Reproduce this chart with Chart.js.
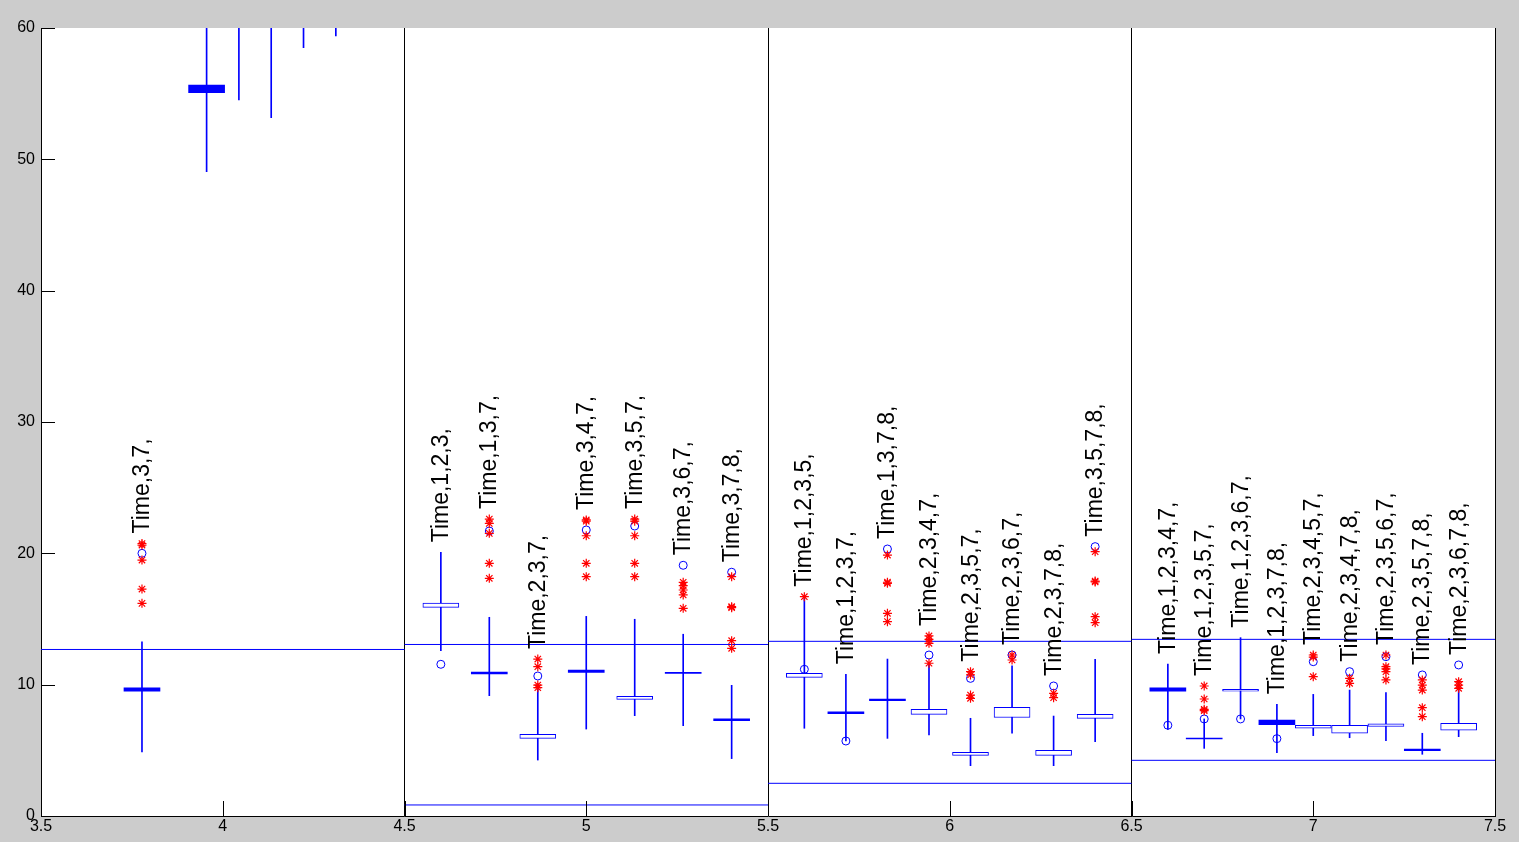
<!DOCTYPE html>
<html><head><meta charset="utf-8">
<script src="https://cdn.jsdelivr.net/npm/chart.js@4"></script>
<style>html,body{margin:0;padding:0;background:#cccccc;overflow:hidden}canvas{display:block}</style>
</head><body>
<canvas id="c" width="1519" height="842"></canvas>
<script>
// ---- panel structure and reference lines ----
const panelEdges = [3.5, 4.5, 5.5, 6.5, 7.5];
const upperRef = [12.68, 13.06, 13.30, 13.45];
const lowerRef = [null, 0.84, 2.49, 4.24];

// ---- boxes (one entry per box) ----
const positions = [
  3.7778, 3.9556, 4.0444, 4.1333, 4.2222, 4.3111,
  4.6, 4.7333, 4.8667, 5.0, 5.1333, 5.2667, 5.4,
  5.6, 5.7143, 5.8286, 5.9429, 6.0571, 6.1714, 6.2857, 6.4,
  6.6, 6.7, 6.8, 6.9, 7.0, 7.1, 7.2, 7.3, 7.4
];
const labels = [
  'Time,3,7,', '', '', '', '', '',
  'Time,1,2,3,', 'Time,1,3,7,', 'Time,2,3,7,', 'Time,3,4,7,', 'Time,3,5,7,', 'Time,3,6,7,', 'Time,3,7,8,',
  'Time,1,2,3,5,', 'Time,1,2,3,7,', 'Time,1,3,7,8,', 'Time,2,3,4,7,', 'Time,2,3,5,7,', 'Time,2,3,6,7,', 'Time,2,3,7,8,', 'Time,3,5,7,8,',
  'Time,1,2,3,4,7,', 'Time,1,2,3,5,7,', 'Time,1,2,3,6,7,', 'Time,1,2,3,7,8,', 'Time,2,3,4,5,7,', 'Time,2,3,4,7,8,', 'Time,2,3,5,6,7,', 'Time,2,3,5,7,8,', 'Time,2,3,6,7,8,'
];
const whiskerLow = [
  4.88, 49.06, 54.52, 53.17, 58.5, 59.4,
  12.59, 9.16, 4.26, 6.62, 7.64, 6.88, 4.37,
  6.68, 5.71, 5.91, 6.17, 3.83, 6.30, 3.83, 5.66,
  6.60, 5.15, 7.39, 4.82, 6.12, 5.96, 5.73, 4.70, 6.04
];
const whiskerHigh = [
  13.26, 61, 61, 61, 61, 61,
  20.08, 15.13, 9.72, 15.20, 14.98, 13.84, 9.95,
  16.70, 10.79, 11.95, 11.63, 7.44, 11.43, 7.61, 11.92,
  11.57, 7.39, 13.58, 8.50, 9.26, 9.59, 9.39, 6.30, 9.72
];
const boxLow = [
  9.50, 55.07, null, null, null, null,
  15.89, 10.81, 5.91, 10.94, 8.88, 10.86, 7.26,
  10.56, 7.79, 8.78, 7.74, 4.62, 7.50, 4.62, 7.43,
  9.50, 5.86, 9.50, 6.95, 6.68, 6.30, 6.83, 4.97, 6.53
];
const boxHigh = [
  9.75, 55.66, null, null, null, null,
  16.22, 10.96, 6.22, 11.12, 9.11, 10.86, 7.39,
  10.86, 7.94, 8.91, 8.12, 4.85, 8.27, 5.00, 7.74,
  9.75, 5.86, 9.65, 7.31, 6.91, 6.91, 7.01, 5.10, 7.06
];
const boxKind = [
  'solid', 'solid', null, null, null, null,
  'open', 'solid', 'open', 'solid', 'open', 'flat', 'solid',
  'open', 'solid', 'solid', 'open', 'open', 'open', 'open', 'open',
  'solid', 'flat', 'open', 'solid', 'open', 'open', 'open', 'solid', 'open'
];
const means = [
  20.0, null, null, null, null, null,
  11.55, 21.70, 10.66, 21.78, 22.08, 19.09, 18.56,
  11.17, 5.71, 20.33, 12.26, 10.48, 12.26, 9.90, 20.51,
  6.91, 7.39, 7.39, 5.89, 11.75, 10.99, 12.13, 10.74, 11.50
];
const outliers = [
  [20.63, 20.75, 19.49, 17.28, 16.19], [], [], [], [], [],
  [], [22.61, 22.28, 21.52, 19.24, 18.10], [11.95, 11.37, 9.97, 9.77], [22.54, 22.45, 21.34, 19.24, 18.22],
  [22.61, 22.45, 21.34, 19.24, 18.22], [17.79, 17.54, 17.21, 16.83, 15.81], [18.22, 15.94, 15.86, 13.35, 12.77],
  [16.70], [], [19.87, 17.72, 17.80, 15.43, 14.80], [13.71, 13.45, 13.15, 11.63],
  [10.99, 10.74, 9.21, 8.96], [12.26, 11.88], [9.34, 9.01], [20.13, 17.89, 17.82, 15.18, 14.72],
  [], [9.90, 8.91, 8.12, 8.02], [], [], [12.26, 12.10, 10.61], [10.48, 10.10],
  [12.26, 11.37, 11.20, 10.99, 10.36], [10.36, 9.97, 9.59, 8.25, 7.56], [10.23, 9.97, 9.72]
];
const yTicks = [0, 10, 20, 30, 40, 50, 60];
const xTicks = [3.5, 4, 4.5, 5, 5.5, 6, 6.5, 7, 7.5];

// ---- build datasets ----
const BLUE = '#0000ff', RED = '#ff0000';
const FONT = "Arial, 'Liberation Sans', sans-serif";

function refData(vals) {
  const d = [];
  vals.forEach((v, i) => {
    if (v === null) return;
    d.push({x: panelEdges[i], y: v}, {x: panelEdges[i + 1], y: v}, {x: panelEdges[i + 1], y: null});
  });
  return d;
}
function boxData(kind) {
  const d = [];
  positions.forEach((x, i) => { if (boxKind[i] === kind) d.push({x, y: [boxLow[i], boxHigh[i]]}); });
  return d;
}
const whiskerData = positions.map((x, i) => ({x, y: [whiskerLow[i], whiskerHigh[i]]}));
const meanData = [];
positions.forEach((x, i) => { if (means[i] !== null) meanData.push({x, y: means[i]}); });
const outlierData = [];
positions.forEach((x, i) => outliers[i].forEach(v => outlierData.push({x, y: v})));

const barCommon = {type: 'bar', grouped: false, clip: 0, borderSkipped: false};

const datasets = [
  {type: 'line', data: refData(upperRef), borderColor: BLUE, borderWidth: 1, pointRadius: 0, spanGaps: false, clip: 0, order: 9},
  {type: 'line', data: refData(lowerRef), borderColor: BLUE, borderWidth: 1, pointRadius: 0, spanGaps: false, clip: 0, order: 9},
  Object.assign({}, barCommon, {data: whiskerData, backgroundColor: BLUE, borderWidth: 0, barThickness: 1, order: 8}),
  Object.assign({}, barCommon, {data: boxData('open'), backgroundColor: '#ffffff', borderColor: BLUE, borderWidth: 1, barThickness: 36, order: 7}),
  Object.assign({}, barCommon, {data: boxData('solid'), backgroundColor: BLUE, borderWidth: 0, barThickness: 36, order: 6}),
  Object.assign({}, barCommon, {data: boxData('flat'), backgroundColor: BLUE, borderWidth: 0, barThickness: 36, minBarLength: 1, order: 5}),
  {type: 'scatter', data: meanData, pointStyle: 'circle', pointRadius: 4, borderColor: BLUE, backgroundColor: 'rgba(0,0,0,0)', borderWidth: 1, clip: 0, order: 2},
  {type: 'scatter', data: outlierData, pointStyle: 'star', pointRadius: 4.5, borderColor: RED, backgroundColor: RED, borderWidth: 1.2, clip: 0, order: 1}
];

// ---- plugins ----
const bgPlugin = {
  id: 'bg',
  beforeDraw(chart) {
    const {ctx, chartArea: a} = chart;
    ctx.save(); ctx.fillStyle = '#ffffff';
    ctx.fillRect(a.left, a.top, a.right - a.left, a.bottom - a.top);
    ctx.restore();
  }
};
const innerTicks = {
  id: 'innerTicks',
  afterDatasetsDraw(chart) {
    const {ctx, chartArea: a, scales: {x, y}} = chart;
    ctx.save(); ctx.strokeStyle = '#000'; ctx.lineWidth = 1; ctx.beginPath();
    yTicks.forEach(v => { const p = Math.round(y.getPixelForValue(v)) + 0.5; ctx.moveTo(a.left, p); ctx.lineTo(a.left + 14, p); });
    xTicks.forEach(v => { const p = Math.round(x.getPixelForValue(v)) + 0.5; ctx.moveTo(p, a.bottom); ctx.lineTo(p, a.bottom - 15); });
    ctx.stroke(); ctx.restore();
  }
};
const boxLabels = {
  id: 'boxLabels',
  afterDatasetsDraw(chart) {
    const {ctx, chartArea: a, scales: {x, y}} = chart;
    ctx.save();
    ctx.beginPath(); ctx.rect(a.left, a.top, a.right - a.left, a.bottom - a.top); ctx.clip();
    ctx.fillStyle = '#000'; ctx.font = '23px ' + FONT; ctx.textAlign = 'left'; ctx.textBaseline = 'alphabetic';
    positions.forEach((xv, i) => {
      if (!labels[i]) return;
      const vals = [whiskerHigh[i]].concat(outliers[i]);
      if (means[i] !== null) vals.push(means[i]);
      const top = Math.max.apply(null, vals);
      ctx.save();
      ctx.translate(x.getPixelForValue(xv), y.getPixelForValue(top) - 10);
      ctx.rotate(-Math.PI / 2);
      ctx.fillText(labels[i], 0, 7);
      ctx.restore();
    });
    ctx.restore();
  }
};

new Chart(document.getElementById('c'), {
  type: 'bar',
  data: {datasets},
  options: {
    responsive: false, animation: false, devicePixelRatio: 1,
    layout: {padding: {top: 28, right: 24, left: 0, bottom: 0}},
    plugins: {legend: {display: false}, tooltip: {enabled: false}},
    scales: {
      x: {
        type: 'linear', min: 3.5, max: 7.5, offset: false,
        afterBuildTicks: s => { s.ticks = xTicks.map(v => ({value: v})); },
        afterFit: s => { s.height = 26; },
        grid: {
          offset: false, drawTicks: false, lineWidth: 1,
          color: c => (c.tick && c.tick.value > 3.6 && Math.abs(((c.tick.value - 3.5) % 1)) < 1e-6) ? '#000000' : 'rgba(0,0,0,0)'
        },
        border: {display: true, color: '#000', width: 1},
        ticks: {color: '#000', font: {family: FONT, size: 16}, padding: 1, maxRotation: 0, autoSkip: false, callback: v => String(v)}
      },
      y: {
        type: 'linear', min: 0, max: 60,
        afterBuildTicks: s => { s.ticks = yTicks.map(v => ({value: v})); },
        afterFit: s => { s.width = 41; },
        grid: {drawTicks: false, color: 'rgba(0,0,0,0)'},
        border: {display: true, color: '#000', width: 1},
        ticks: {color: '#000', font: {family: FONT, size: 16}, padding: 6, callback: v => String(v)}
      }
    }
  },
  plugins: [bgPlugin, innerTicks, boxLabels]
});
</script>
</body></html>
